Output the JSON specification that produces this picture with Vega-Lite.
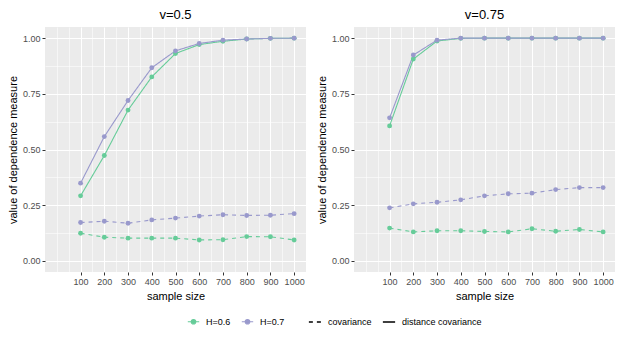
{
  "$schema": "https://vega.github.io/schema/vega-lite/v6.json",
  "padding": {"left": 7, "top": 9, "right": 5, "bottom": 2},
  "background": "white",
  "data": {"values": [
    {"v": "v=0.5", "H": "H=0.6", "measure": "distance covariance", "n": 100, "value": 0.292},
    {"v": "v=0.5", "H": "H=0.6", "measure": "distance covariance", "n": 200, "value": 0.473},
    {"v": "v=0.5", "H": "H=0.6", "measure": "distance covariance", "n": 300, "value": 0.677},
    {"v": "v=0.5", "H": "H=0.6", "measure": "distance covariance", "n": 400, "value": 0.826},
    {"v": "v=0.5", "H": "H=0.6", "measure": "distance covariance", "n": 500, "value": 0.931},
    {"v": "v=0.5", "H": "H=0.6", "measure": "distance covariance", "n": 600, "value": 0.971},
    {"v": "v=0.5", "H": "H=0.6", "measure": "distance covariance", "n": 700, "value": 0.986},
    {"v": "v=0.5", "H": "H=0.6", "measure": "distance covariance", "n": 800, "value": 0.996},
    {"v": "v=0.5", "H": "H=0.6", "measure": "distance covariance", "n": 900, "value": 0.999},
    {"v": "v=0.5", "H": "H=0.6", "measure": "distance covariance", "n": 1000, "value": 1.0},
    {"v": "v=0.5", "H": "H=0.6", "measure": "covariance", "n": 100, "value": 0.124},
    {"v": "v=0.5", "H": "H=0.6", "measure": "covariance", "n": 200, "value": 0.106},
    {"v": "v=0.5", "H": "H=0.6", "measure": "covariance", "n": 300, "value": 0.102},
    {"v": "v=0.5", "H": "H=0.6", "measure": "covariance", "n": 400, "value": 0.102},
    {"v": "v=0.5", "H": "H=0.6", "measure": "covariance", "n": 500, "value": 0.102},
    {"v": "v=0.5", "H": "H=0.6", "measure": "covariance", "n": 600, "value": 0.094},
    {"v": "v=0.5", "H": "H=0.6", "measure": "covariance", "n": 700, "value": 0.095},
    {"v": "v=0.5", "H": "H=0.6", "measure": "covariance", "n": 800, "value": 0.109},
    {"v": "v=0.5", "H": "H=0.6", "measure": "covariance", "n": 900, "value": 0.108},
    {"v": "v=0.5", "H": "H=0.6", "measure": "covariance", "n": 1000, "value": 0.094},
    {"v": "v=0.75", "H": "H=0.6", "measure": "distance covariance", "n": 100, "value": 0.606},
    {"v": "v=0.75", "H": "H=0.6", "measure": "distance covariance", "n": 200, "value": 0.906},
    {"v": "v=0.75", "H": "H=0.6", "measure": "distance covariance", "n": 300, "value": 0.987},
    {"v": "v=0.75", "H": "H=0.6", "measure": "distance covariance", "n": 400, "value": 0.999},
    {"v": "v=0.75", "H": "H=0.6", "measure": "distance covariance", "n": 500, "value": 1.0},
    {"v": "v=0.75", "H": "H=0.6", "measure": "distance covariance", "n": 600, "value": 1.0},
    {"v": "v=0.75", "H": "H=0.6", "measure": "distance covariance", "n": 700, "value": 1.0},
    {"v": "v=0.75", "H": "H=0.6", "measure": "distance covariance", "n": 800, "value": 1.0},
    {"v": "v=0.75", "H": "H=0.6", "measure": "distance covariance", "n": 900, "value": 1.0},
    {"v": "v=0.75", "H": "H=0.6", "measure": "distance covariance", "n": 1000, "value": 1.0},
    {"v": "v=0.75", "H": "H=0.6", "measure": "covariance", "n": 100, "value": 0.147},
    {"v": "v=0.75", "H": "H=0.6", "measure": "covariance", "n": 200, "value": 0.130},
    {"v": "v=0.75", "H": "H=0.6", "measure": "covariance", "n": 300, "value": 0.135},
    {"v": "v=0.75", "H": "H=0.6", "measure": "covariance", "n": 400, "value": 0.135},
    {"v": "v=0.75", "H": "H=0.6", "measure": "covariance", "n": 500, "value": 0.132},
    {"v": "v=0.75", "H": "H=0.6", "measure": "covariance", "n": 600, "value": 0.130},
    {"v": "v=0.75", "H": "H=0.6", "measure": "covariance", "n": 700, "value": 0.144},
    {"v": "v=0.75", "H": "H=0.6", "measure": "covariance", "n": 800, "value": 0.133},
    {"v": "v=0.75", "H": "H=0.6", "measure": "covariance", "n": 900, "value": 0.141},
    {"v": "v=0.75", "H": "H=0.6", "measure": "covariance", "n": 1000, "value": 0.130},
    {"v": "v=0.5", "H": "H=0.7", "measure": "distance covariance", "n": 100, "value": 0.349},
    {"v": "v=0.5", "H": "H=0.7", "measure": "distance covariance", "n": 200, "value": 0.558},
    {"v": "v=0.5", "H": "H=0.7", "measure": "distance covariance", "n": 300, "value": 0.720},
    {"v": "v=0.5", "H": "H=0.7", "measure": "distance covariance", "n": 400, "value": 0.867},
    {"v": "v=0.5", "H": "H=0.7", "measure": "distance covariance", "n": 500, "value": 0.943},
    {"v": "v=0.5", "H": "H=0.7", "measure": "distance covariance", "n": 600, "value": 0.976},
    {"v": "v=0.5", "H": "H=0.7", "measure": "distance covariance", "n": 700, "value": 0.991},
    {"v": "v=0.5", "H": "H=0.7", "measure": "distance covariance", "n": 800, "value": 0.996},
    {"v": "v=0.5", "H": "H=0.7", "measure": "distance covariance", "n": 900, "value": 0.999},
    {"v": "v=0.5", "H": "H=0.7", "measure": "distance covariance", "n": 1000, "value": 1.0},
    {"v": "v=0.5", "H": "H=0.7", "measure": "covariance", "n": 100, "value": 0.172},
    {"v": "v=0.5", "H": "H=0.7", "measure": "covariance", "n": 200, "value": 0.178},
    {"v": "v=0.5", "H": "H=0.7", "measure": "covariance", "n": 300, "value": 0.169},
    {"v": "v=0.5", "H": "H=0.7", "measure": "covariance", "n": 400, "value": 0.184},
    {"v": "v=0.5", "H": "H=0.7", "measure": "covariance", "n": 500, "value": 0.192},
    {"v": "v=0.5", "H": "H=0.7", "measure": "covariance", "n": 600, "value": 0.201},
    {"v": "v=0.5", "H": "H=0.7", "measure": "covariance", "n": 700, "value": 0.207},
    {"v": "v=0.5", "H": "H=0.7", "measure": "covariance", "n": 800, "value": 0.204},
    {"v": "v=0.5", "H": "H=0.7", "measure": "covariance", "n": 900, "value": 0.205},
    {"v": "v=0.5", "H": "H=0.7", "measure": "covariance", "n": 1000, "value": 0.212},
    {"v": "v=0.75", "H": "H=0.7", "measure": "distance covariance", "n": 100, "value": 0.642},
    {"v": "v=0.75", "H": "H=0.7", "measure": "distance covariance", "n": 200, "value": 0.924},
    {"v": "v=0.75", "H": "H=0.7", "measure": "distance covariance", "n": 300, "value": 0.991},
    {"v": "v=0.75", "H": "H=0.7", "measure": "distance covariance", "n": 400, "value": 1.0},
    {"v": "v=0.75", "H": "H=0.7", "measure": "distance covariance", "n": 500, "value": 1.0},
    {"v": "v=0.75", "H": "H=0.7", "measure": "distance covariance", "n": 600, "value": 1.0},
    {"v": "v=0.75", "H": "H=0.7", "measure": "distance covariance", "n": 700, "value": 1.0},
    {"v": "v=0.75", "H": "H=0.7", "measure": "distance covariance", "n": 800, "value": 1.0},
    {"v": "v=0.75", "H": "H=0.7", "measure": "distance covariance", "n": 900, "value": 1.0},
    {"v": "v=0.75", "H": "H=0.7", "measure": "distance covariance", "n": 1000, "value": 1.0},
    {"v": "v=0.75", "H": "H=0.7", "measure": "covariance", "n": 100, "value": 0.238},
    {"v": "v=0.75", "H": "H=0.7", "measure": "covariance", "n": 200, "value": 0.256},
    {"v": "v=0.75", "H": "H=0.7", "measure": "covariance", "n": 300, "value": 0.263},
    {"v": "v=0.75", "H": "H=0.7", "measure": "covariance", "n": 400, "value": 0.274},
    {"v": "v=0.75", "H": "H=0.7", "measure": "covariance", "n": 500, "value": 0.292},
    {"v": "v=0.75", "H": "H=0.7", "measure": "covariance", "n": 600, "value": 0.301},
    {"v": "v=0.75", "H": "H=0.7", "measure": "covariance", "n": 700, "value": 0.304},
    {"v": "v=0.75", "H": "H=0.7", "measure": "covariance", "n": 800, "value": 0.320},
    {"v": "v=0.75", "H": "H=0.7", "measure": "covariance", "n": 900, "value": 0.329},
    {"v": "v=0.75", "H": "H=0.7", "measure": "covariance", "n": 1000, "value": 0.329}
  ]},
  "facet": {
    "column": {
      "field": "v", "type": "nominal", "title": null,
      "header": {"labelFontSize": 13, "labelColor": "black", "labelFont": "Liberation Sans", "labelFontWeight": "normal", "labelPadding": 5}
    }
  },
  "spacing": 10,
  "resolve": {"axis": {"y": "independent", "x": "independent"}},
  "spec": {
    "width": 261,
    "height": 245,
    "encoding": {
      "x": {
        "field": "n", "type": "quantitative", "title": "sample size",
        "scale": {"domain": [-50, 1050], "nice": false, "zero": false},
        "axis": {
          "values": [0, 50, 100, 150, 200, 250, 300, 350, 400, 450, 500, 550, 600, 650, 700, 750, 800, 850, 900, 950, 1000],
          "labelExpr": "datum.value >= 100 && datum.value % 100 == 0 ? datum.label : ''",
          "gridWidth": {"condition": {"test": "datum.value >= 100 && datum.value % 100 == 0", "value": 1.1}, "value": 0.55},
          "tickOpacity": {"condition": {"test": "datum.value >= 100 && datum.value % 100 == 0", "value": 1}, "value": 0},
          "format": "d"
        }
      },
      "y": {
        "field": "value", "type": "quantitative", "title": "value of dependence measure",
        "scale": {"domain": [-0.05, 1.05], "nice": false, "zero": false},
        "axis": {
          "values": [0, 0.125, 0.25, 0.375, 0.5, 0.625, 0.75, 0.875, 1],
          "labelExpr": "(datum.value * 4) % 1 == 0 ? format(datum.value, '.2f') : ''",
          "gridWidth": {"condition": {"test": "(datum.value * 4) % 1 == 0", "value": 1.1}, "value": 0.55},
          "tickOpacity": {"condition": {"test": "(datum.value * 4) % 1 == 0", "value": 1}, "value": 0}
        }
      },
      "color": {
        "field": "H", "type": "nominal",
        "scale": {"domain": ["H=0.6", "H=0.7"], "range": ["#66CC99", "#9999CC"]},
        "legend": {
          "title": null,
          "orient": "none",
          "legendX": 142,
          "legendY": 288,
          "symbolType": "M-1,0L1,0M-0.4,0A0.4,0.4,0,1,0,0.4,0A0.4,0.4,0,1,0,-0.4,0Z",
          "symbolSize": 130,
          "symbolStrokeWidth": 1.1,
          "encode": {"symbols": {"update": {"fill": {"scale": "color", "field": "value"}, "stroke": {"scale": "color", "field": "value"}, "opacity": {"value": 1}}}}
        }
      }
    },
    "layer": [
      {
        "mark": {"type": "line", "strokeWidth": 1.1},
        "encoding": {
          "strokeDash": {
            "field": "measure", "type": "nominal",
            "scale": {"domain": ["covariance", "distance covariance"], "range": [[4, 4], [1, 0]]},
            "legend": {"title": null, "orient": "none", "legendX": 263, "legendY": 288, "symbolType": "stroke", "symbolStrokeColor": "black", "symbolSize": 150, "symbolStrokeWidth": 1.3}
          }
        }
      },
      {
        "mark": {"type": "circle", "size": 24, "opacity": 1}
      }
    ]
  },
  "config": {
    "font": "Liberation Sans",
    "view": {"fill": "#EBEBEB", "stroke": null},
    "style": {"guide-title": {"fontWeight": "normal"}},
    "header": {"labelFontWeight": "normal", "titleFontWeight": "normal"},
    "axis": {
      "domain": false,
      "gridColor": "white",
      "tickColor": "#333333",
      "tickSize": 3,
      "tickWidth": 1,
      "labelColor": "#4D4D4D",
      "labelFontSize": 9,
      "labelPadding": 2,
      "titleFontSize": 11,
      "titleFontWeight": "normal",
      "titleColor": "black",
      "titlePadding": 4
    },
    "legend": {
      "direction": "horizontal",
      "labelFontSize": 9,
      "labelColor": "black",
      "labelOffset": 6,
      "columnPadding": 8,
      "symbolOffset": 0
    }
  }
}
